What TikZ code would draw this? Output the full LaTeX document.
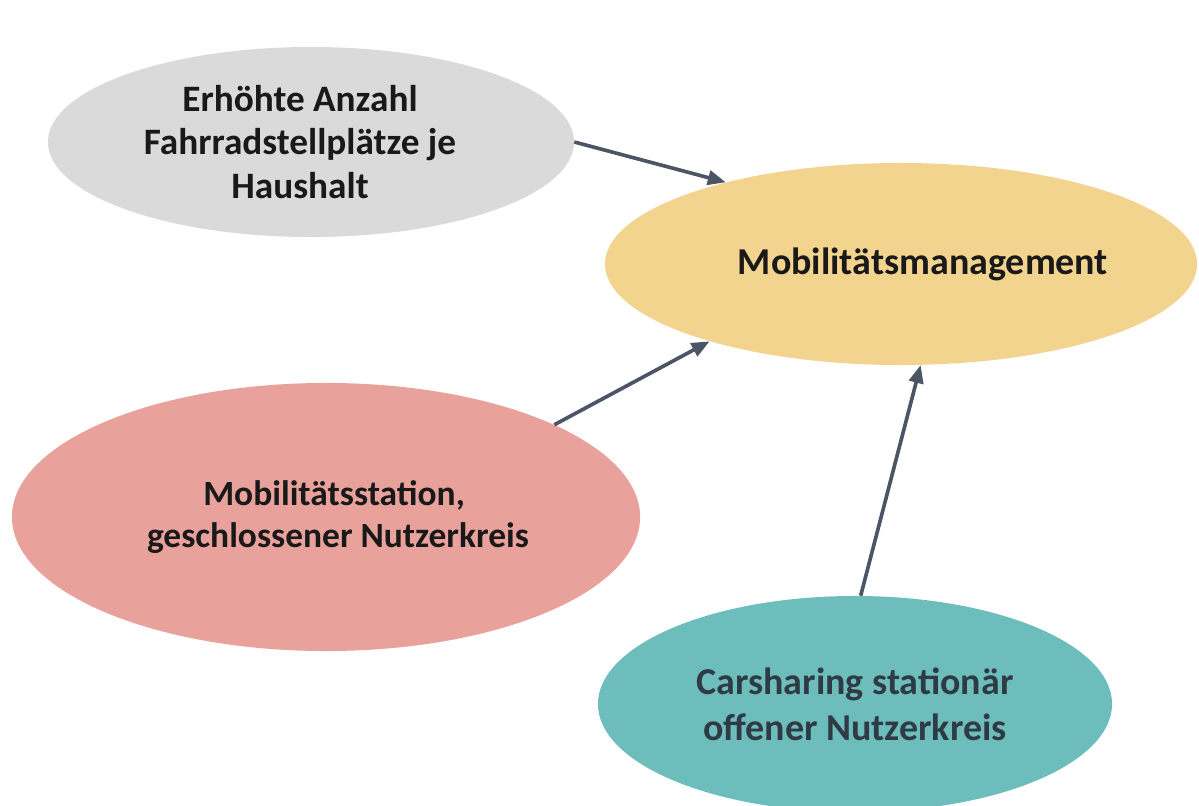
\documentclass[tikz,border=0pt]{standalone}
\usepackage{fontspec}
\setmainfont{Carlito}
\usetikzlibrary{shapes.geometric,arrows.meta}

\definecolor{bubblegray}{HTML}{DADADA}
\definecolor{bubbleyellow}{HTML}{F3D48F}
\definecolor{bubblepink}{HTML}{E9A19B}
\definecolor{bubbleteal}{HTML}{6EBDBD}
\definecolor{arrowslate}{HTML}{4B5566}
\definecolor{tealtext}{HTML}{2F3B44}

\tikzset{
  bubble/.style={ellipse, inner sep=0pt, align=center,
    font=\fontsize{26}{30.5}\selectfont\bfseries, text=black!90},
  link/.style={draw=arrowslate, line width=2.6pt,
    -{Triangle[length=0.45cm,width=0.36cm]}}
}

\begin{document}
\begin{tikzpicture}[x=0.025cm, y=-0.025cm]
  \useasboundingbox (0,0) rectangle (1199,805);

  % goal in the middle right
  \node[bubble, fill=bubbleyellow, minimum width=14.8cm, minimum height=5.05cm,
        font=\fontsize{27}{31}\selectfont\bfseries]
    (mm) at (901,264) {\hspace*{1.1cm}Mobilitätsmanagement};

  % contributing measures
  \node[bubble, fill=bubblegray, minimum width=13.15cm, minimum height=4.75cm,
        font=\fontsize{26.5}{31}\selectfont\bfseries]
    (bike) at (311,142) {\hspace*{-0.55cm}Erhöhte Anzahl\\\hspace*{-0.55cm}Fahrradstellplätze je\\\hspace*{-0.55cm}Haushalt};
  \node[bubble, fill=bubblepink, minimum width=15.7cm, minimum height=6.7cm,
        font=\fontsize{25.2}{30.5}\selectfont\bfseries]
    (station) at (326,517) {\hspace*{0.4cm}Mobilitätsstation,\\\hspace*{0.6cm}geschlossener Nutzerkreis};
  \node[bubble, fill=bubbleteal, text=tealtext, minimum width=12.85cm, minimum height=5.4cm,
        font=\fontsize{27}{32.5}\selectfont\bfseries]
    (car) at (855,704) {Carsharing stationär\\offener Nutzerkreis};

  % influence arrows
  \draw[link] (bike.east) -- (mm.155.6);
  \draw[link] (station.22) -- (mm.202);
  \draw[link] (car.87.4) -- (mm.281.5);
\end{tikzpicture}
\end{document}
